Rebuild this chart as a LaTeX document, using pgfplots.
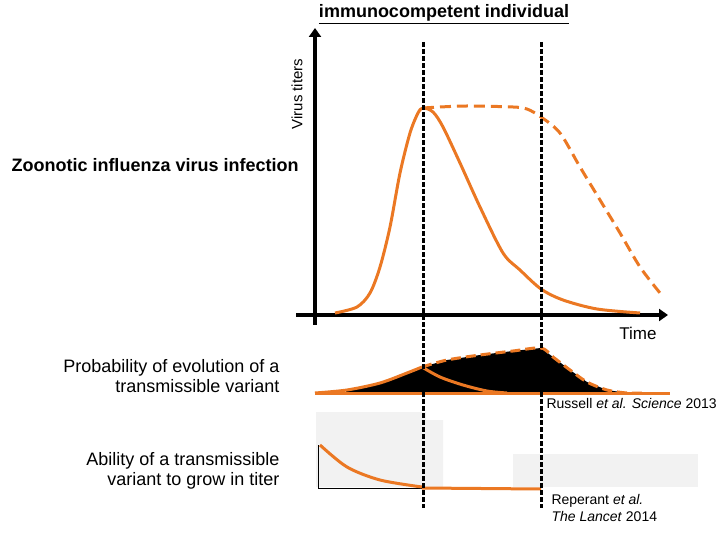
\documentclass[border=0pt]{standalone}
\usepackage{pgfplots}
\pgfplotsset{compat=1.18}
\usepackage{fontspec}
\setmainfont{Liberation Sans}
\usetikzlibrary{arrows.meta}
\definecolor{org}{RGB}{235,120,35}
\definecolor{lgray}{RGB}{242,242,242}
\newcommand{\fs}[1]{\fontsize{#1bp}{#1bp}\selectfont}
\begin{document}
\begin{tikzpicture}
\begin{axis}[width=720bp,height=540bp,scale only axis,
  xmin=0,xmax=720,ymin=0,ymax=540,y dir=reverse,hide axis,clip=false]
% grey boxes
\addplot[fill=lgray,draw=none] coordinates {(316,412)(426,412)(426,420)(443,420)(443,487)(316,487)} -- cycle;
\addplot[fill=lgray,draw=none] coordinates {(513,454)(698,454)(698,487)(513,487)} -- cycle;
% small axes bottom panel
\addplot[black,line width=0.8bp] coordinates {(318,445)(318,488)(423,488)};
% axes top panel
\addplot[black,line width=4bp,-{Triangle[length=9bp,width=12bp]}] coordinates {(315,325)(315,28)};
\addplot[black,line width=4bp,-{Triangle[length=9bp,width=12bp]}] coordinates {(296,315)(668,315)};
% middle panel black fill
\addplot[fill=black,draw=none] coordinates {(345,393)(347,390)(380,383)(407,373)(422,367)(447,360)(480,355)(513,351)(541,348)(553,357)(570,370)(587,382)(607,390)(627,393)} -- cycle;
% middle baseline
\addplot[org,line width=3bp] coordinates {(315,393)(670,393)};
% middle rising curve
\addplot[org,line width=3bp,smooth] coordinates {(315,393)(347,390)(380,383)(407,373)(422,367)};
% middle solid descending
\addplot[org,line width=3bp,smooth] coordinates {(422,367)(440,377)(463,385)(487,391)(507,393)};
% middle dashed envelope
\addplot[org,line width=3bp,dash pattern=on 10bp off 5bp,smooth] coordinates {(422,367)(447,360)(480,355)(513,351)(541,348)(553,357)(570,370)(587,382)(607,390)(627,393)(645,393)};
% top solid curve
\addplot[org,line width=3bp,smooth,tension=0.5] coordinates {(335,313)(357,307)(370,293)(380,267)(390,227)(400,173)(410,133)(418,113)(423,108)(433,112)(443,127)(460,163)(480,207)(503,253)(520,270)(541,289)(563,300)(597,309)(640,313)};
% top dashed curve
\addplot[org,line width=3bp,dash pattern=on 11bp off 6bp,smooth,tension=0.5] coordinates {(423,108)(440,107)(467,106)(513,107)(527,109)(541,117)(560,133)(580,167)(600,200)(620,233)(640,267)(660,293)};
% bottom panel curve
\addplot[org,line width=3bp,smooth] coordinates {(320,445)(347,467)(380,480)(422,487)};
\addplot[org,line width=3bp] coordinates {(422,488)(541,489)};
% dashed verticals
\addplot[black,line width=3bp,dash pattern=on 5bp off 2bp] coordinates {(423,42)(423,508)};
\addplot[black,line width=3bp,dash pattern=on 5bp off 2bp] coordinates {(541,42)(541,508)};
% texts
\node[anchor=center] at (axis cs:444,14) {\fs{18}\underline{\textbf{immunocompetent individual}}};
\node[rotate=90,anchor=center] at (axis cs:297,94) {\fs{15}Virus titers};
\node[anchor=west] at (axis cs:8,165) {\fs{18}\textbf{Zoonotic influenza virus infection}};
\node[anchor=center] at (axis cs:638,333) {\fs{17}Time};
\node[anchor=east,align=right] at (axis cs:283,376) {\fs{18}Probability of evolution of a\\[2bp]\fs{18}transmissible variant};
\node[anchor=east,align=right] at (axis cs:283,471) {\fs{18}Ability of a transmissible\\[2bp]\fs{18}variant to grow in titer};
\node[anchor=west] at (axis cs:543,403) {\fs{14}Russell \textit{et al. Science} 2013};
\node[anchor=west,align=left] at (axis cs:548,508) {\fs{14}Reperant \textit{et al.}\\[2bp]\fs{14}\textit{The Lancet} 2014};
\end{axis}
\pgfresetboundingbox
\path[use as bounding box] (current axis.south west) rectangle (current axis.north east);
\end{tikzpicture}
\end{document}
